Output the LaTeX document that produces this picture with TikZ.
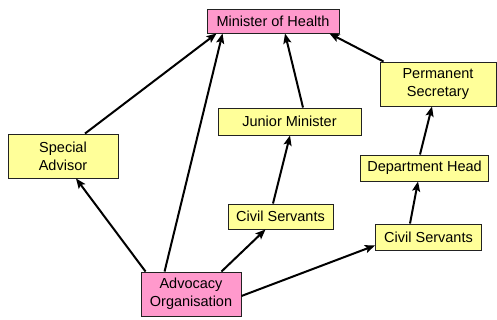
\documentclass[tikz,border=0pt]{standalone}
\usepackage{fontspec}
\setmainfont{Liberation Sans}
\usetikzlibrary{arrows.meta}
\definecolor{boxyellow}{HTML}{FFFF99}
\definecolor{boxpink}{HTML}{FF99CC}
\definecolor{boxline}{HTML}{222222}
\tikzset{
  box/.style={draw=boxline, line width=0.9pt, inner sep=0pt, align=center,
    font=\fontsize{14.5}{18}\selectfont},
  ybox/.style={box, fill=boxyellow},
  pbox/.style={box, fill=boxpink},
  link/.style={line width=2pt, -{Stealth[length=10pt,width=8pt,inset=2pt]}},
}
\begin{document}
\begin{tikzpicture}[x=1pt,y=-1pt]
\useasboundingbox (0,0) rectangle (497,320);
% boxes
\node[pbox, minimum width=132pt, minimum height=24pt] (moh) at (273,21) {Minister of Health};
\node[ybox, minimum width=110pt, minimum height=44pt] (sa) at (63,156) {Special\\Advisor};
\node[ybox, minimum width=143pt, minimum height=27pt] (jm) at (289.5,121.5) {Junior Minister};
\node[ybox, minimum width=116pt, minimum height=44pt] (ps) at (438,84) {Permanent\\Secretary};
\node[ybox, minimum width=128pt, minimum height=26pt] (dh) at (424.5,168) {Department Head};
\node[ybox, minimum width=105pt, minimum height=25pt] (csm) at (280.5,216.5) {Civil Servants};
\node[ybox, minimum width=106pt, minimum height=26pt] (csr) at (428.5,237) {Civil Servants};
\node[pbox, minimum width=100pt, minimum height=44pt] (adv) at (191,294) {Advocacy\\Organisation};
% influence lines
\draw[link] ([xshift=5pt]adv.north west) -- ([xshift=13pt]sa.south);
\draw[link] ([xshift=22pt]sa.north) -- ([xshift=10pt]moh.south west);
\draw[link] ([xshift=24pt]adv.north west) -- ([xshift=16pt]moh.south west);
\draw[link] ([xshift=13.5pt]jm.north) -- ([xshift=12pt]moh.south);
\draw[link] ([xshift=4pt]ps.north west) -- ([xshift=-10pt]moh.south east);
\draw[link] ([xshift=-7.5pt]csm.north) -- ([xshift=0.5pt]jm.south);
\draw[link] ([xshift=-20pt]adv.north east) -- ([xshift=-15pt]csm.south);
\draw[link] ([yshift=-2pt]adv.east) -- ([yshift=5pt]csr.south west);
\draw[link] ([xshift=-18.5pt]csr.north) -- ([xshift=-6.5pt]dh.south);
\draw[link] ([xshift=-4.5pt]dh.north) -- ([xshift=-6pt]ps.south);
\end{tikzpicture}
\end{document}
